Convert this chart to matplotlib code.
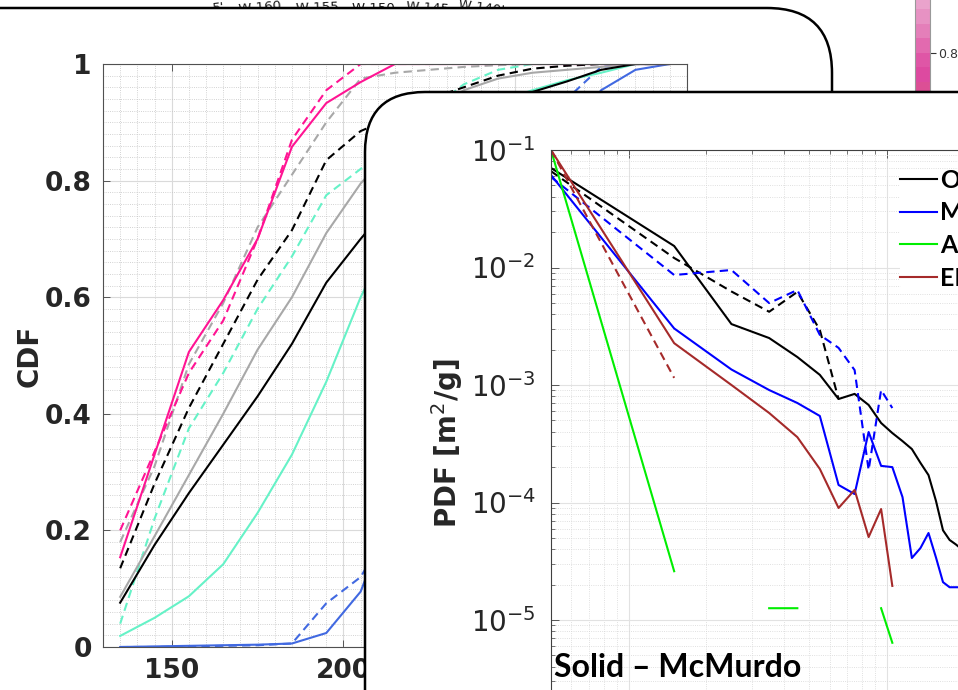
import numpy as np
import matplotlib.pyplot as plt
from matplotlib.patches import FancyBboxPatch
from matplotlib.transforms import IdentityTransform
from matplotlib.ticker import MultipleLocator

plt.rcParams['font.family'] = 'DejaVu Sans'

W, H = 958, 690

# ---- left panel: CDF ----
cdf_x = [135, 145, 155, 165, 175, 185, 195, 205, 215, 225, 235, 245, 255, 265, 275, 285, 295]
cdf_pink = [0.154, 0.33, 0.506, 0.595, 0.70, 0.858, 0.933, 0.969, 1, 1, 1, 1, 1, 1, 1, 1, 1]
cdf_pink_d = [0.20, 0.335, 0.47, 0.56, 0.70, 0.87, 0.955, 1, 1, 1, 1, 1, 1, 1, 1, 1, 1]
cdf_gray = [0.086, 0.19, 0.295, 0.40, 0.51, 0.60, 0.71, 0.795, 0.86, 0.915, 0.955, 0.975, 0.985, 0.99, 0.995, 1, 1]
cdf_gray_d = [0.18, 0.31, 0.485, 0.59, 0.72, 0.81, 0.90, 0.975, 0.985, 0.99, 0.995, 0.998, 1, 1, 1, 1, 1]
cdf_black = [0.076, 0.175, 0.264, 0.347, 0.43, 0.52, 0.625, 0.70, 0.77, 0.83, 0.885, 0.925, 0.952, 0.97, 0.99, 1, 1]
cdf_black_d = [0.135, 0.28, 0.41, 0.52, 0.63, 0.715, 0.835, 0.885, 0.91, 0.94, 0.96, 0.98, 0.992, 0.997, 1, 1, 1]
cdf_aqua = [0.019, 0.05, 0.087, 0.142, 0.23, 0.33, 0.455, 0.60, 0.72, 0.82, 0.89, 0.935, 0.955, 0.972, 0.985, 1, 1]
cdf_aqua_d = [0.04, 0.22, 0.375, 0.47, 0.58, 0.67, 0.775, 0.82, 0.87, 0.92, 0.965, 0.99, 1, 1, 1, 1, 1]
cdf_blue = [0.0, 0.001, 0.002, 0.003, 0.004, 0.006, 0.024, 0.095, 0.25, 0.40, 0.55, 0.68, 0.79, 0.88, 0.955, 0.99, 1]
cdf_blue_d = [0.0, 0.0, 0.001, 0.002, 0.003, 0.006, 0.075, 0.12, 0.22, 0.36, 0.51, 0.66, 0.80, 0.94, 0.995, 1, 1]
cdf_yticks = [0, 0.2, 0.4, 0.6, 0.8, 1]
cdf_ytick_labels = ['0', '0.2', '0.4', '0.6', '0.8', '1']
cdf_xticks = [150, 200, 250, 300]
cdf_xtick_labels = ['150', '200', '', '']   # 250 and 300 sit under the front panel

# ---- right panel: PDF (log-log) ----
nan = np.nan
pdf_x = [0.5, 1.5, 2.5, 3.5, 4.5, 5.5, 6.5, 7.5, 8.5, 9.5, 10.5, 11.5, 12.5, 13.5, 14.5, 15.5, 16.5, 17.5, 18.5, 19.5]
pdf_obs = [0.0703, 0.01524, 3.3e-3, 2.51e-3, 1.73e-3, 1.22e-3, 7.6e-4, 8.4e-4, 6.76e-4, 4.75e-4,
           3.9e-4, 3.33e-4, 2.85e-4, 2.17e-4, 1.71e-4, 1.03e-4, 5.8e-5, 4.8e-5, 4.4e-5, 4.0e-5]
pdf_obs_d = [0.066, 0.01205, 6.25e-3, 4.2e-3, 6.2e-3, 2.94e-3, 7.6e-4, nan, nan, nan,
             nan, nan, nan, nan, nan, nan, nan, nan, nan, nan]
pdf_m = [0.0612, 3.03e-3, 1.355e-3, 9.06e-4, 7.03e-4, 5.45e-4, 1.41e-4, 1.18e-4, 3.98e-4, 2.05e-4,
         2.0e-4, 1.11e-4, 3.37e-5, 4.1e-5, 5.5e-5, 3.4e-5, 2.1e-5, 1.9e-5, 1.9e-5, 1.9e-5]
pdf_m_d = [0.0589, 8.63e-3, 9.52e-3, 4.98e-3, 6.44e-3, 2.67e-3, 2.07e-3, 1.34e-3, 1.89e-4, 9.06e-4,
           6.37e-4, nan, nan, nan, nan, nan, nan, nan, nan, nan]
pdf_a = [0.1, 2.6e-5, nan, 1.26e-5, 1.26e-5, nan, nan, nan, nan, 1.26e-5,
         6.4e-6, nan, nan, nan, nan, nan, nan, nan, nan, nan]
pdf_e = [0.1, 2.27e-3, 1.0e-3, 5.78e-4, 3.6e-4, 1.93e-4, 8.98e-5, 1.28e-4, 5.08e-5, 8.8e-5,
         1.95e-5, nan, nan, nan, nan, nan, nan, nan, nan, nan]
pdf_e_d = [0.1, 1.15e-3, nan, nan, nan, nan, nan, nan, nan, nan,
           nan, nan, nan, nan, nan, nan, nan, nan, nan, nan]
legend_labels = ['Observations', 'MERRA-2', 'AMPS', 'ERA5']

# ---- bits of other figures peeking out at the top ----
lon_labels = ["5'", 'W 160', 'W 155', 'W 150', 'W 145', "W 140'"]
cb_edges = [0.5, 0.55, 0.6, 0.65, 0.7, 0.75, 0.8, 0.85, 0.9, 0.95, 1.0]
cb_colors = ['#d65a5a', '#d75a6e', '#d95e7c', '#dc4f95', '#dd4aa0',
             '#df56a6', '#e26aaf', '#e47fb9', '#e792c3', '#eaa3cc']


def fig_rect(x0, y0, x1, y1):
    # pixel box (top-left origin) -> figure fraction
    return [x0 / W, 1 - y1 / H, (x1 - x0) / W, (y1 - y0) / H]


fig = plt.figure(figsize=(W / 100, H / 100), dpi=100)

lon_px = [212, 238, 296, 352, 406, 458]
lon_rot = [6, 5, 2, 0, -4, -8]
for lab, px, rot in zip(lon_labels, lon_px, lon_rot):
    fig.text(px / W, 1 - 8 / H, lab, fontsize=9.5, color='#1a1a1a', rotation=rot,
             ha='left', va='center', zorder=0.1)

cax = fig.add_axes(fig_rect(915, -5.5, 930, 140))
cax.set_zorder(0.2)
for lo, hi, c in zip(cb_edges[:-1], cb_edges[1:], cb_colors):
    cax.axhspan(lo, hi, color=c, lw=0)
cax.set_ylim(cb_edges[0], cb_edges[-1])
cax.set_xticks([])
cax.yaxis.tick_right()
cax.set_yticks([0.8], ['0.8'])
cax.tick_params(axis='y', length=4, width=0.8, color='#333333', labelcolor='#333333', labelsize=9, pad=2)
for s in cax.spines.values():
    s.set_color('#999999')
    s.set_linewidth(0.8)

left_box = FancyBboxPatch((-200, -200), 832 + 200, (H - 8) + 200,
                          boxstyle='round,pad=0,rounding_size=65',
                          transform=IdentityTransform(), fc='white', ec='black', lw=1.8, zorder=0.5)
fig.add_artist(left_box)

ax1 = fig.add_axes(fig_rect(103, 64, 687, 647))
ax1.set_zorder(1)
lw = 1.5
dash = (4, 2.5)
ax1.plot(cdf_x, cdf_blue, color='#4169e1', lw=lw)
ax1.plot(cdf_x, cdf_blue_d, color='#4169e1', lw=lw, dashes=dash)
ax1.plot(cdf_x, cdf_aqua, color='#66f2c7', lw=lw)
ax1.plot(cdf_x, cdf_aqua_d, color='#66f2c7', lw=lw, dashes=dash)
ax1.plot(cdf_x, cdf_gray, color='#a8a8a8', lw=lw)
ax1.plot(cdf_x, cdf_gray_d, color='#a8a8a8', lw=lw, dashes=dash)
ax1.plot(cdf_x, cdf_black, color='black', lw=lw)
ax1.plot(cdf_x, cdf_black_d, color='black', lw=lw, dashes=dash)
ax1.plot(cdf_x, cdf_pink, color='#ff1493', lw=lw)
ax1.plot(cdf_x, cdf_pink_d, color='#ff1493', lw=lw, dashes=dash)
ax1.set_xlim(130, 300)
ax1.set_ylim(0, 1)
ax1.set_xticks(cdf_xticks, cdf_xtick_labels, fontweight='bold')
ax1.set_yticks(cdf_yticks, cdf_ytick_labels, fontweight='bold')
ax1.xaxis.set_minor_locator(MultipleLocator(5))
ax1.yaxis.set_minor_locator(MultipleLocator(0.02))
ax1.set_axisbelow(True)
ax1.grid(True, which='major', color='#dadada', lw=0.8)
ax1.grid(True, which='minor', color='#c4c4c4', lw=0.6, ls=':')
ax1.tick_params(which='major', direction='in', length=5, width=0.6, color='#404040',
                labelsize=19, labelcolor='#262626', top=True, right=True, pad=8)
ax1.tick_params(which='minor', length=0)
for s in ax1.spines.values():
    s.set_color('#505050')
    s.set_linewidth(0.8)
ax1.set_ylabel('CDF', fontsize=20, fontweight='bold', color='#262626', labelpad=1)

right_box = FancyBboxPatch((365, -200), 1400 - 365, (H - 92) + 200,
                           boxstyle='round,pad=0,rounding_size=60',
                           transform=IdentityTransform(), fc='white', ec='black', lw=1.8, zorder=2)
fig.add_artist(right_box)

ax2 = fig.add_axes(fig_rect(551, 150, 1145, 737.5))
ax2.set_zorder(3)
ax2.plot(pdf_x, pdf_obs, color='black', lw=lw, label=legend_labels[0])
ax2.plot(pdf_x, pdf_obs_d, color='black', lw=lw, dashes=dash)
ax2.plot(pdf_x, pdf_m, color='#0000ff', lw=lw, label=legend_labels[1])
ax2.plot(pdf_x, pdf_m_d, color='#0000ff', lw=lw, dashes=dash)
ax2.plot(pdf_x, pdf_a, color='#00ee00', lw=lw, label=legend_labels[2])
ax2.plot(pdf_x, pdf_e, color='#a52a2a', lw=lw, label=legend_labels[3])
ax2.plot(pdf_x, pdf_e_d, color='#a52a2a', lw=lw, dashes=dash)
ax2.set_xscale('log')
ax2.set_yscale('log')
ax2.set_xlim(0.5, 100)
ax2.set_ylim(1e-6, 1e-1)
ax2.set_axisbelow(True)
ax2.grid(True, which='major', color='#e2e2e2', lw=0.8)
ax2.grid(True, which='minor', color='#d6d6d6', lw=0.6, ls=':')
ax2.tick_params(which='both', direction='in', top=True, right=True, color='#404040',
                labelsize=20, labelcolor='#262626', pad=11, labelbottom=False)
ax2.tick_params(which='major', length=6, width=0.6)
ax2.tick_params(which='minor', length=3, width=0.5)
for s in ax2.spines.values():
    s.set_color('#404040')
    s.set_linewidth(0.8)
ax2.set_ylabel(r'PDF [m$^{2}$/g]', fontsize=20, fontweight='bold', color='#262626', labelpad=4)

leg = ax2.legend(loc='upper left', bbox_to_anchor=(900 / W, 1 - 169 / H), bbox_transform=fig.transFigure,
                 frameon=True, borderpad=0, borderaxespad=0, handlelength=1.48, handletextpad=0.12,
                 labelspacing=0.38, prop={'family': 'Lato', 'weight': 'bold', 'size': 18})
leg.get_frame().set_edgecolor('none')
leg.get_frame().set_facecolor('white')
leg.get_frame().set_alpha(1)

fig.text(554 / W, 1 - 677 / H, 'Solid – McMurdo', fontsize=23, fontweight='bold',
         family='Lato', color='black', ha='left', va='baseline', zorder=4)

fig.savefig('out.png', dpi=100)
